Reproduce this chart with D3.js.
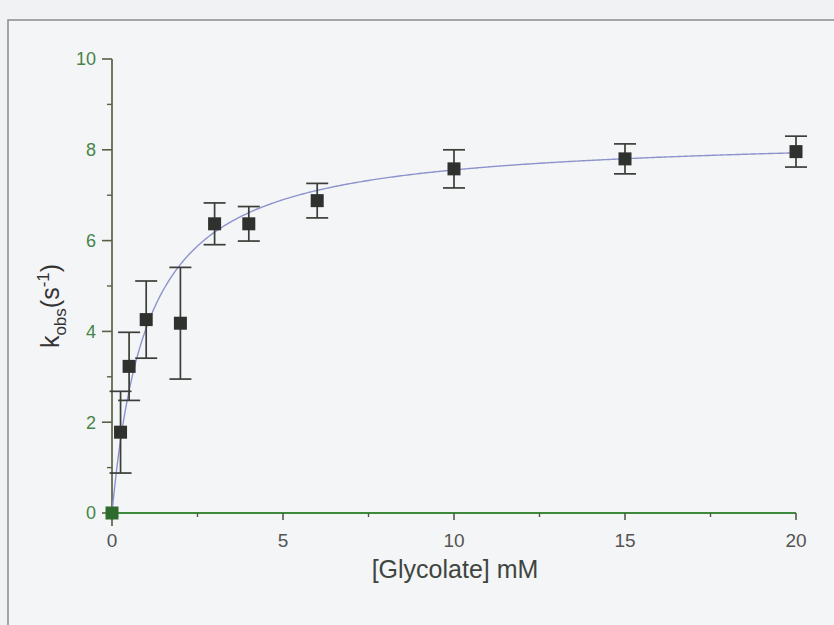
<!DOCTYPE html>
<html>
<head>
<meta charset="utf-8">
<script src="https://cdn.jsdelivr.net/npm/d3@7"></script>
<style>
  html, body { margin: 0; padding: 0; background: #f1f2f4; }
  svg { display: block; }
</style>
</head>
<body>
<div id="chart"></div>
<script>
// Glycolate concentration (mM) and observed rate constants (s^-1)
const glycolate = [0, 0.25, 0.5, 1, 2, 3, 4, 6, 10, 15, 20];
const kobs      = [0, 1.78, 3.23, 4.26, 4.18, 6.37, 6.37, 6.88, 7.58, 7.80, 7.96];
const kobsErr   = [0, 0.90, 0.75, 0.85, 1.23, 0.46, 0.38, 0.38, 0.42, 0.33, 0.34];

// hyperbolic fit shown as the blue line
const fitKmax = 8.35;
const fitKd = 1.05;

const xTicks = [0, 5, 10, 15, 20];
const xMinorTicks = [2.5, 7.5, 12.5, 17.5];
const yTicks = [0, 2, 4, 6, 8, 10];
const yMinorTicks = [1, 3, 5, 7, 9];

const width = 834, height = 625;
const font = 'Liberation Sans, Arial, sans-serif';

const svg = d3.select('#chart').append('svg')
    .attr('width', width)
    .attr('height', height);

// paper + frame
svg.append('rect')
    .attr('x', 0).attr('y', 0)
    .attr('width', width).attr('height', height)
    .attr('fill', '#f1f2f4');

svg.append('rect')
    .attr('x', 8).attr('y', 20)
    .attr('width', 840).attr('height', 620)
    .attr('fill', '#f4f5f7')
    .attr('stroke', '#8a8a8a')
    .attr('stroke-width', 1.5);

const x = d3.scaleLinear().domain([0, 20]).range([112, 796]);
const y = d3.scaleLinear().domain([0, 10]).range([513, 59]);

// y axis
const yAxisColor = '#5b5f45';
svg.append('line')
    .attr('x1', x(0)).attr('x2', x(0))
    .attr('y1', y(10)).attr('y2', y(0) + 13)
    .attr('stroke', yAxisColor).attr('stroke-width', 1.7);

svg.selectAll('.ytick').data(yTicks).enter().append('line')
    .attr('x1', x(0) - 10).attr('x2', x(0))
    .attr('y1', d => y(d)).attr('y2', d => y(d))
    .attr('stroke', yAxisColor).attr('stroke-width', 1.6);

svg.selectAll('.yminor').data(yMinorTicks).enter().append('line')
    .attr('x1', x(0) - 5).attr('x2', x(0))
    .attr('y1', d => y(d)).attr('y2', d => y(d))
    .attr('stroke', yAxisColor).attr('stroke-width', 1.4);

svg.selectAll('.ylabel').data(yTicks).enter().append('text')
    .attr('x', x(0) - 16)
    .attr('y', d => y(d))
    .attr('dy', '0.36em')
    .attr('text-anchor', 'end')
    .style('font-family', font)
    .style('font-size', '18px')
    .style('fill', '#468446')
    .text(d => d);

// x axis
const xAxisColor = '#3d8a3d';
svg.append('line')
    .attr('x1', x(0)).attr('x2', x(20))
    .attr('y1', y(0)).attr('y2', y(0))
    .attr('stroke', xAxisColor).attr('stroke-width', 1.9);

svg.selectAll('.xtick').data(xTicks).enter().append('line')
    .attr('x1', d => x(d)).attr('x2', d => x(d))
    .attr('y1', y(0)).attr('y2', y(0) + 7)
    .attr('stroke', '#555a45').attr('stroke-width', 1.6);

svg.selectAll('.xminor').data(xMinorTicks).enter().append('line')
    .attr('x1', d => x(d)).attr('x2', d => x(d))
    .attr('y1', y(0)).attr('y2', y(0) + 4)
    .attr('stroke', '#555a45').attr('stroke-width', 1.4);

svg.selectAll('.xlabel').data(xTicks).enter().append('text')
    .attr('x', d => x(d))
    .attr('y', y(0) + 34)
    .attr('text-anchor', 'middle')
    .style('font-family', font)
    .style('font-size', '19px')
    .style('fill', '#545454')
    .text(d => d);

// axis titles
svg.append('text')
    .attr('x', 455)
    .attr('y', 578)
    .attr('text-anchor', 'middle')
    .style('font-family', font)
    .style('font-size', '25px')
    .style('fill', '#3f453f')
    .text('[Glycolate] mM');

const yTitle = svg.append('text')
    .attr('transform', 'translate(59,306) rotate(-90)')
    .attr('text-anchor', 'middle')
    .style('font-family', font)
    .style('font-size', '25px')
    .style('fill', '#333');
yTitle.append('tspan').text('k');
yTitle.append('tspan').attr('dy', 7).style('font-size', '17px').text('obs');
yTitle.append('tspan').attr('dy', -7).text('(s');
yTitle.append('tspan').attr('dy', -10).style('font-size', '17px').text('-1');
yTitle.append('tspan').attr('dy', 10).text(')');

// fit curve
const curveX = d3.range(0, 20.001, 0.05);
const line = d3.line()
    .x(d => x(d))
    .y(d => y(fitKmax * d / (fitKd + d)));

svg.append('path')
    .datum(curveX)
    .attr('d', line)
    .attr('fill', 'none')
    .attr('stroke', '#8c93cc')
    .attr('stroke-width', 1.4);

// data
const points = glycolate.map((g, i) => ({ g, k: kobs[i], e: kobsErr[i] }));
const errColor = '#3a3d38';

const bars = svg.append('g').selectAll('g')
    .data(points.filter(d => d.e > 0))
    .enter().append('g');

bars.append('line')
    .attr('x1', d => x(d.g)).attr('x2', d => x(d.g))
    .attr('y1', d => y(d.k + d.e)).attr('y2', d => y(d.k - d.e))
    .attr('stroke', errColor).attr('stroke-width', 1.7);

bars.append('line')
    .attr('x1', d => x(d.g) - 11).attr('x2', d => x(d.g) + 11)
    .attr('y1', d => y(d.k + d.e)).attr('y2', d => y(d.k + d.e))
    .attr('stroke', errColor).attr('stroke-width', 1.7);

bars.append('line')
    .attr('x1', d => x(d.g) - 11).attr('x2', d => x(d.g) + 11)
    .attr('y1', d => y(d.k - d.e)).attr('y2', d => y(d.k - d.e))
    .attr('stroke', errColor).attr('stroke-width', 1.7);

svg.append('g').selectAll('rect')
    .data(points)
    .enter().append('rect')
    .attr('x', d => x(d.g) - 6.5)
    .attr('y', d => y(d.k) - 6.5)
    .attr('width', 13)
    .attr('height', 13)
    .attr('fill', d => d.g === 0 ? '#2f6a2f' : '#2e312e');
</script>
</body>
</html>
